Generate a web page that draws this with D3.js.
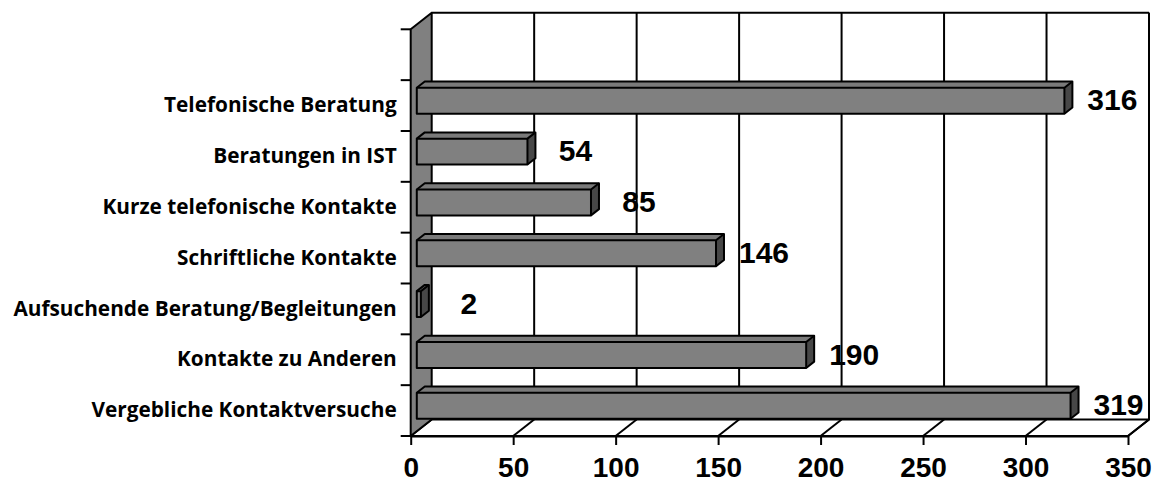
<!DOCTYPE html>
<html>
<head>
<meta charset="utf-8">
<script src="https://cdn.jsdelivr.net/npm/d3@7"></script>
<style>
  body { margin: 0; background: #fff; }
  svg { display: block; }
</style>
</head>
<body>
<svg width="1160" height="485"></svg>
<script>
// data, bottom to top as in the chart
const categories = [
  "Vergebliche Kontaktversuche",
  "Kontakte zu Anderen",
  "Aufsuchende Beratung/Begleitungen",
  "Schriftliche Kontakte",
  "Kurze telefonische Kontakte",
  "Beratungen in IST",
  "Telefonische Beratung"
];
const values = [319, 190, 2, 146, 85, 54, 316];
const xTicks = [0, 50, 100, 150, 200, 250, 300, 350];

const data = categories.map((c, i) => ({ name: c, value: values[i] }));

const svg = d3.select("svg");
const frontLeft = 410.7, frontRight = 1128;
const frontTop = 29.3, frontBottom = 436;
const DX = 21, DY = -16.5;     // depth of the 3d box
const Z0 = 0.29, Z1 = 0.67;    // bar depth inside the box

const x = d3.scaleLinear().domain([0, 350]).range([frontLeft, frontRight]);
// one empty slot above the top category
const slots = [" "].concat(categories.slice().reverse());
const y = d3.scaleBand()
  .domain(slots)
  .range([frontTop, frontBottom])
  .paddingInner(0.49)
  .paddingOuter(0.245);

const P = (v, yy, z) => [x(v) + z * DX, yy + z * DY];
const poly = pts => "M" + pts.map(p => p.join(",")).join("L") + "Z";

// back wall
const back = svg.append("g");
back.append("rect")
  .attr("x", x(0) + DX).attr("y", frontTop + DY)
  .attr("width", x(350) - x(0)).attr("height", frontBottom - frontTop)
  .attr("fill", "#fff");
back.selectAll("line.grid")
  .data(xTicks.slice(1))
  .enter().append("line")
  .attr("class", "grid")
  .attr("x1", d => x(d) + DX).attr("x2", d => x(d) + DX)
  .attr("y1", frontTop + DY).attr("y2", frontBottom + DY)
  .attr("stroke", "#000").attr("stroke-width", 2);
back.append("line")
  .attr("x1", x(0) + DX).attr("x2", x(350) + DX)
  .attr("y1", frontTop + DY).attr("y2", frontTop + DY)
  .attr("stroke", "#000").attr("stroke-width", 2);

// floor
svg.append("path")
  .attr("d", poly([P(0, frontBottom, 0), P(350, frontBottom, 0), P(350, frontBottom, 1), P(0, frontBottom, 1)]))
  .attr("fill", "#fff").attr("stroke", "#000").attr("stroke-width", 2)
  .attr("stroke-linejoin", "round");
svg.selectAll("line.floor")
  .data(xTicks.slice(1, -1))
  .enter().append("line")
  .attr("class", "floor")
  .attr("x1", d => x(d)).attr("y1", frontBottom)
  .attr("x2", d => x(d) + DX).attr("y2", frontBottom + DY)
  .attr("stroke", "#000").attr("stroke-width", 2);

// left wall
svg.append("path")
  .attr("d", poly([P(0, frontTop, 0), P(0, frontTop, 1), P(0, frontBottom, 1), P(0, frontBottom, 0)]))
  .attr("fill", "#808080").attr("stroke", "#000").attr("stroke-width", 2)
  .attr("stroke-linejoin", "round");

// category ticks at slot boundaries
const step = y.step();
const bounds = d3.range(slots.length + 1).map(i => frontTop + i * step);
svg.selectAll("line.ytick")
  .data(bounds)
  .enter().append("line")
  .attr("class", "ytick")
  .attr("x1", frontLeft - 10).attr("x2", frontLeft)
  .attr("y1", d => d).attr("y2", d => d)
  .attr("stroke", "#000").attr("stroke-width", 2);

// category labels (band centres = slot centres)
const yAxis = d3.axisLeft(y).tickSize(0).tickPadding(14);
const yAxisG = svg.append("g")
  .attr("transform", `translate(${frontLeft},0)`)
  .call(yAxis);
yAxisG.select(".domain").remove();
yAxisG.selectAll("text")
  .attr("font-family", "'Open Sans', Lato, sans-serif")
  .attr("font-weight", "bold")
  .attr("font-size", "20.8px")
  .attr("fill", "#000");

// bars
const bars = svg.selectAll("g.bar")
  .data(data)
  .enter().append("g")
  .attr("class", "bar");

bars.append("path")
  .attr("d", d => {
    const y0 = y(d.name);
    return poly([P(0, y0, Z0), P(0, y0, Z1), P(d.value, y0, Z1), P(d.value, y0, Z0)]);
  })
  .attr("fill", "#7a7a7a");
bars.append("path")
  .attr("d", d => {
    const y0 = y(d.name), y1 = y0 + y.bandwidth();
    return poly([P(d.value, y0, Z0), P(d.value, y0, Z1), P(d.value, y1, Z1), P(d.value, y1, Z0)]);
  })
  .attr("fill", "#474747");
bars.append("path")
  .attr("d", d => {
    const y0 = y(d.name), y1 = y0 + y.bandwidth();
    return poly([P(0, y0, Z0), P(d.value, y0, Z0), P(d.value, y1, Z0), P(0, y1, Z0)]);
  })
  .attr("fill", "#808080");
bars.append("path")
  .attr("d", d => {
    const y0 = y(d.name), y1 = y0 + y.bandwidth();
    return poly([P(0, y0, Z0), P(0, y0, Z1), P(d.value, y0, Z1), P(d.value, y1, Z1), P(d.value, y1, Z0), P(0, y1, Z0)]);
  })
  .attr("fill", "none").attr("stroke", "#000").attr("stroke-width", 2)
  .attr("stroke-linejoin", "round");
bars.append("path")
  .attr("d", d => {
    const y0 = y(d.name);
    return "M" + P(0, y0, Z0).join(",") + "L" + P(d.value, y0, Z0).join(",") + "L" + P(d.value, y0, Z1).join(",") +
      "M" + P(d.value, y0, Z0).join(",") + "L" + P(d.value, y0 + y.bandwidth(), Z0).join(",");
  })
  .attr("fill", "none").attr("stroke", "#000").attr("stroke-width", 2);

// value labels
bars.append("text")
  .attr("x", d => P(d.value, 0, Z1)[0] + 40)
  .attr("y", d => y(d.name) + y.bandwidth() / 2 - 6)
  .attr("dy", "0.36em")
  .attr("text-anchor", "middle")
  .attr("font-family", "'Liberation Sans', Arial, sans-serif")
  .attr("font-weight", "bold")
  .attr("font-size", "30px")
  .text(d => d.value);

// value axis on the front edge
const xAxis = d3.axisBottom(x)
  .tickValues(xTicks)
  .tickSize(9)
  .tickSizeOuter(0)
  .tickPadding(12);
const xAxisG = svg.append("g")
  .attr("transform", `translate(0,${frontBottom})`)
  .call(xAxis);
xAxisG.select(".domain").attr("stroke", "#000").attr("stroke-width", 2);
xAxisG.selectAll(".tick line").attr("stroke", "#000").attr("stroke-width", 2);
xAxisG.selectAll("text")
  .attr("font-family", "'Liberation Sans', Arial, sans-serif")
  .attr("font-weight", "bold")
  .attr("font-size", "28px")
  .attr("fill", "#000");

// right edges of the box
svg.append("path")
  .attr("d", "M" + P(350, frontBottom, 0).join(",") + "L" + P(350, frontBottom, 1).join(",") + "L" + P(350, frontTop, 1).join(","))
  .attr("fill", "none").attr("stroke", "#000").attr("stroke-width", 2)
  .attr("stroke-linejoin", "round");
</script>
</body>
</html>
